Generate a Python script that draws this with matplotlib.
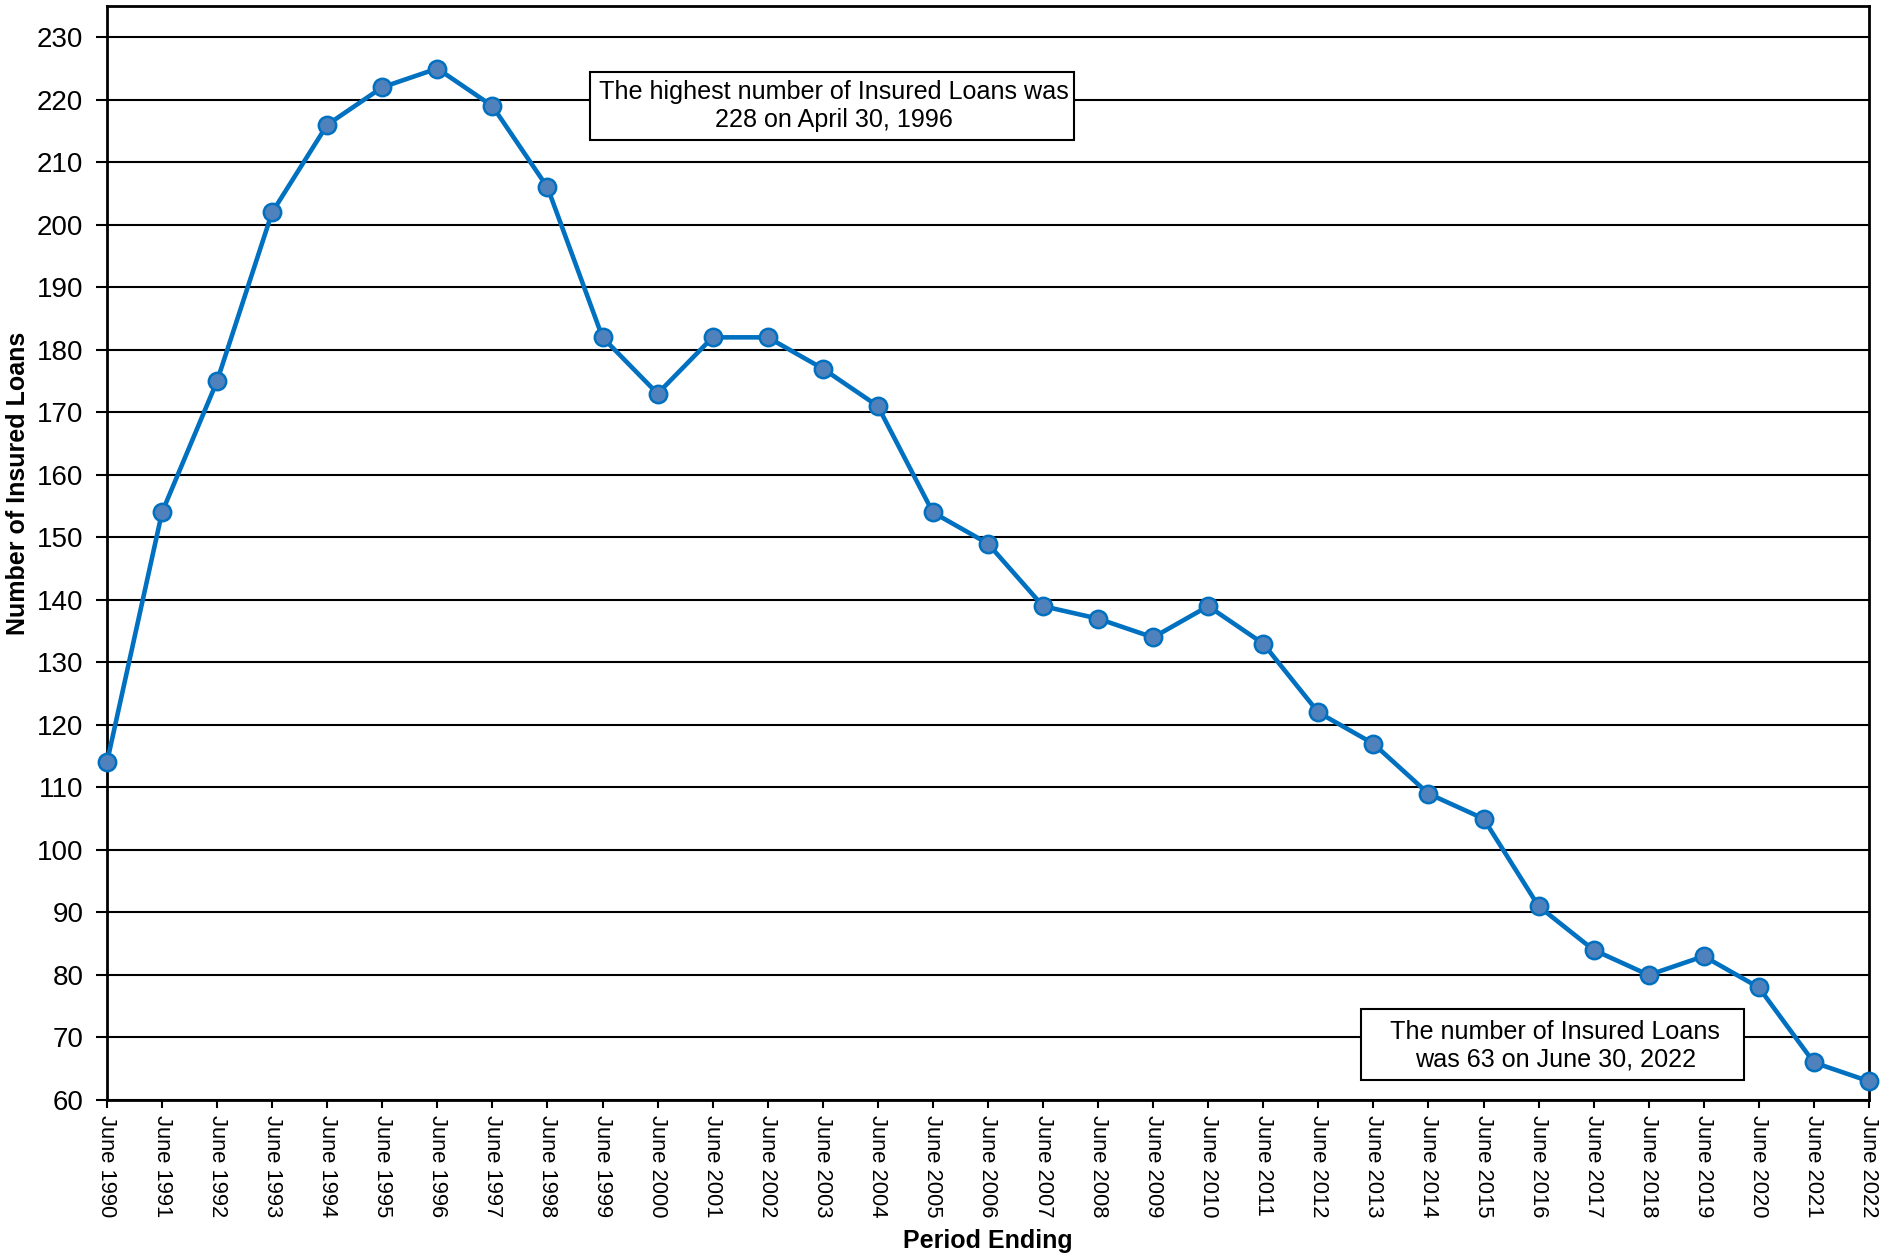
import matplotlib
matplotlib.use('Agg')
import matplotlib.pyplot as plt
from matplotlib.patches import Rectangle
import numpy as np

plt.rcParams['font.family'] = ['Liberation Sans', 'DejaVu Sans']

years = list(range(1990, 2023))
tick_labels = ['June ' + str(y) for y in years]
loans = [114, 154, 175, 202, 216, 222, 225, 219, 206, 182, 173, 182, 182, 177, 171,
         154, 149, 139, 137, 134, 139, 133, 122, 117, 109, 105, 91, 84, 80, 83, 78, 66, 63]

note_high = 'The highest number of Insured Loans was\n228 on April 30, 1996'
note_last = 'The number of Insured Loans\nwas 63 on June 30, 2022'

fig = plt.figure(figsize=(18.93, 12.55), dpi=100)
ax = fig.add_axes([0.0565, 0.1235, 0.9308, 0.8717])

x = np.arange(len(years))
ax.plot(x, loans, color='#0070C0', linewidth=3.3, marker='o', markersize=12.5,
        markerfacecolor='#4F81BD', markeredgecolor='#0070C0', markeredgewidth=1.8,
        zorder=3, clip_on=False)

ax.set_xlim(0, len(years) - 1)
ax.set_ylim(60, 235)
ax.set_yticks(np.arange(60, 231, 10))
ax.set_xticks(x)
ax.set_xticklabels(tick_labels, rotation=270, fontsize=15.8)
ax.tick_params(axis='y', labelsize=20, length=8, width=1.5, direction='out', pad=9)
ax.tick_params(axis='x', length=6, width=1.5, direction='out', pad=5)
ax.yaxis.grid(True, color='black', linewidth=1.5)
ax.set_axisbelow(True)
for s in ax.spines.values():
    s.set_linewidth(2)

ax.set_ylabel('Number of Insured Loans', fontsize=18, fontweight='bold')
ax.yaxis.set_label_coords(-0.0505, 0.564)
ax.yaxis.label.set_verticalalignment('center')
ax.set_xlabel('Period Ending', fontsize=18, fontweight='bold')
ax.xaxis.set_label_coords(0.5, -0.129)
ax.xaxis.label.set_verticalalignment('center')

# annotation boxes (figure coords)
fig.add_artist(Rectangle((0.3117, 0.8884), 0.2557, 0.0542, transform=fig.transFigure,
                         facecolor='white', edgecolor='black', linewidth=1.5, zorder=5))
fig.text(0.4406, 0.9155, note_high, ha='center', va='center', fontsize=18.1,
         linespacing=1.2, zorder=6)
fig.add_artist(Rectangle((0.719, 0.1394), 0.2023, 0.0566, transform=fig.transFigure,
                         facecolor='white', edgecolor='black', linewidth=1.5, zorder=5))
fig.text(0.8215, 0.1665, note_last, ha='center', va='center', fontsize=18.1,
         linespacing=1.2, zorder=6)

fig.savefig('out.png', dpi=100)
